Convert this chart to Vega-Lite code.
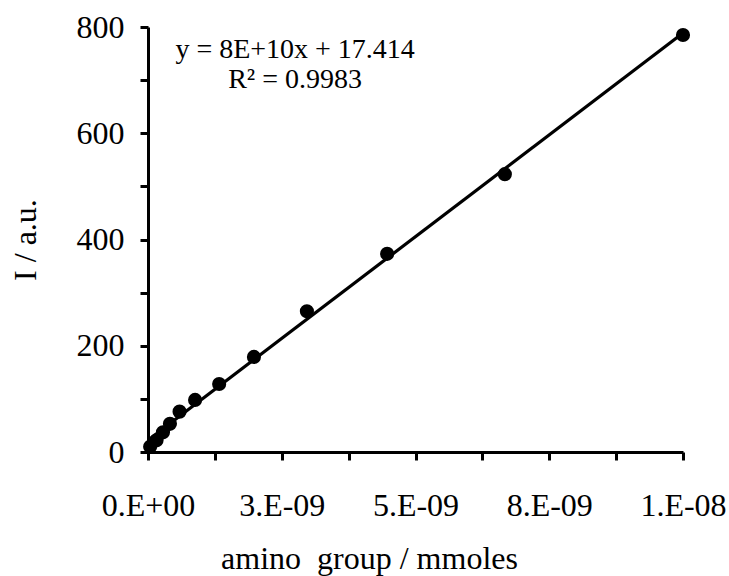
{
  "$schema": "https://vega.github.io/schema/vega-lite/v6.json",
  "autosize": {"type": "none"},
  "width": 535,
  "height": 425,
  "padding": {"left": 148, "top": 27, "right": 46, "bottom": 124},
  "background": "white",
  "config": {
    "view": {"stroke": null},
    "font": "Liberation Serif",
    "axis": {
      "grid": false,
      "domainColor": "black",
      "domainWidth": 3,
      "tickColor": "black",
      "tickWidth": 3,
      "tickSize": 8,
      "labelFont": "Liberation Serif",
      "labelFontSize": 32,
      "labelColor": "black",
      "titleFont": "Liberation Serif",
      "titleFontSize": 32,
      "titleFontWeight": "normal",
      "titleColor": "black"
    }
  },
  "datasets": {
    "points": [
      {"amount": 0.04e-9, "intensity": 10},
      {"amount": 0.16e-9, "intensity": 22},
      {"amount": 0.28e-9, "intensity": 37},
      {"amount": 0.41e-9, "intensity": 53},
      {"amount": 0.59e-9, "intensity": 76},
      {"amount": 0.88e-9, "intensity": 98},
      {"amount": 1.33e-9, "intensity": 128},
      {"amount": 1.98e-9, "intensity": 179},
      {"amount": 2.97e-9, "intensity": 265},
      {"amount": 4.47e-9, "intensity": 373},
      {"amount": 6.67e-9, "intensity": 523},
      {"amount": 10.0e-9, "intensity": 785}
    ],
    "notes": [
      {"amount": 2.75e-9, "intensity": 741, "label": "y = 8E+10x + 17.414"},
      {"amount": 2.75e-9, "intensity": 685, "label": "R² = 0.9983"}
    ]
  },
  "layer": [
    {
      "data": {"name": "points"},
      "transform": [
        {"regression": "intensity", "on": "amount", "extent": [0, 1e-8]}
      ],
      "mark": {"type": "line", "color": "black", "strokeWidth": 3.2},
      "encoding": {
        "x": {
          "field": "amount", "type": "quantitative",
          "scale": {"domain": [0, 1e-8], "nice": false, "zero": true},
          "axis": {
            "values": [0, 1.25e-9, 2.5e-9, 3.75e-9, 5e-9, 6.25e-9, 7.5e-9, 8.75e-9, 1e-8],
            "labelExpr": "['0.E+00','','3.E-09','','5.E-09','','8.E-09','','1.E-08'][round(datum.index*8)]",
            "labelPadding": 30,
            "labelFlush": false,
            "labelOverlap": false,
            "title": "amino\u00a0 group / mmoles",
            "titleX": 221,
            "titlePadding": 22
          }
        },
        "y": {
          "field": "intensity", "type": "quantitative",
          "scale": {"domain": [0, 800], "nice": false},
          "axis": {
            "values": [0, 100, 200, 300, 400, 500, 600, 700, 800],
            "labelExpr": "datum.value % 200 == 0 ? datum.label : ''",
            "labelPadding": 16,
            "labelFlush": false,
            "labelOverlap": false,
            "title": "I / a.u.",
            "titlePadding": 34
          }
        }
      }
    },
    {
      "data": {"name": "points"},
      "mark": {"type": "point", "filled": true, "color": "black", "opacity": 1, "size": 200},
      "encoding": {
        "x": {"field": "amount", "type": "quantitative"},
        "y": {"field": "intensity", "type": "quantitative"}
      }
    },
    {
      "data": {"name": "notes"},
      "mark": {"type": "text", "font": "Liberation Serif", "fontSize": 28, "color": "black", "align": "center", "baseline": "alphabetic"},
      "encoding": {
        "x": {"field": "amount", "type": "quantitative"},
        "y": {"field": "intensity", "type": "quantitative"},
        "text": {"field": "label"}
      }
    }
  ]
}
